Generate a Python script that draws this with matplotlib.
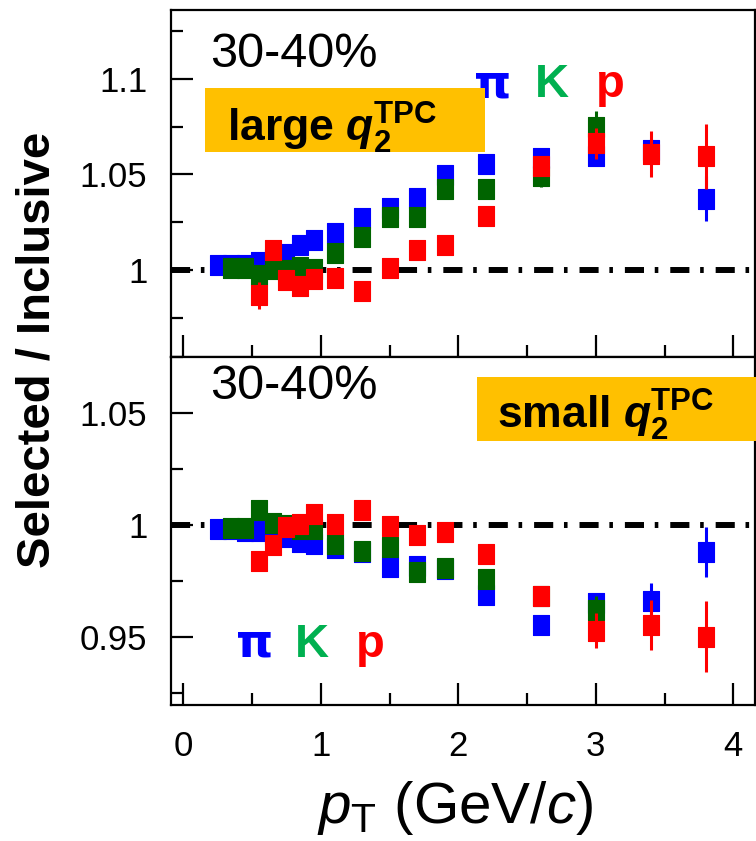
import matplotlib
matplotlib.use("Agg")
import matplotlib.pyplot as plt
from matplotlib.patches import Rectangle
from matplotlib.ticker import MultipleLocator, FuncFormatter

plt.rcParams["font.family"] = ["Liberation Sans", "DejaVu Sans"]
plt.rcParams["mathtext.fontset"] = "custom"
plt.rcParams["mathtext.rm"] = "Liberation Sans"
plt.rcParams["mathtext.it"] = "Liberation Sans:italic"
plt.rcParams["mathtext.bf"] = "Liberation Sans:italic:bold"
plt.rcParams["mathtext.sf"] = "Liberation Sans:bold"

# pT bin centres per species
pt_pi = [0.25, 0.35, 0.45, 0.55, 0.65, 0.75, 0.85, 0.95, 1.1, 1.3, 1.5, 1.7, 1.9, 2.2, 2.6, 3.0, 3.4, 3.8]
pt_k = [0.35, 0.45, 0.55, 0.65, 0.75, 0.85, 0.95, 1.1, 1.3, 1.5, 1.7, 1.9, 2.2, 2.6, 3.0]
pt_p = [0.55, 0.65, 0.75, 0.85, 0.95, 1.1, 1.3, 1.5, 1.7, 1.9, 2.2, 2.6, 3.0, 3.4, 3.8]

# large q2 selection / inclusive
large_pi = [1.003, 1.003, 1.003, 1.0045, 1.006, 1.0085, 1.013, 1.016, 1.0194, 1.0275, 1.0326, 1.0376,
            1.0497, 1.0556, 1.0586, 1.0595, 1.0626, 1.0374]
large_pi_err = [0.001, 0.001, 0.001, 0.001, 0.001, 0.001, 0.001, 0.001, 0.001, 0.001, 0.001, 0.002,
                0.002, 0.003, 0.004, 0.005, 0.006, 0.0117]
large_k = [1.0015, 1.0015, 0.9975, 1.0005, 1.0, 1.002, 1.0006, 1.009, 1.0173, 1.028, 1.028, 1.0423,
           1.0426, 1.0494, 1.0747]
large_k_err = [0.001, 0.001, 0.001, 0.001, 0.001, 0.001, 0.001, 0.001, 0.002, 0.002, 0.002, 0.003,
               0.003, 0.006, 0.0083]
large_p = [0.987, 1.0105, 0.995, 0.992, 0.9954, 0.996, 0.9893, 1.0015, 1.0107, 1.0134, 1.0284, 1.0546,
           1.0662, 1.0607, 1.0595]
large_p_err = [0.007, 0.004, 0.003, 0.003, 0.002, 0.002, 0.002, 0.002, 0.002, 0.003, 0.003, 0.005,
               0.008, 0.0122, 0.017]

# small q2 selection / inclusive
small_pi = [0.9982, 0.998, 0.9975, 0.9975, 0.996, 0.9946, 0.9925, 0.9915, 0.9895, 0.988, 0.981, 0.9818,
            0.9805, 0.9685, 0.9552, 0.965, 0.9658, 0.988]
small_pi_err = [0.001, 0.001, 0.001, 0.001, 0.001, 0.001, 0.001, 0.001, 0.001, 0.001, 0.001, 0.002,
                0.002, 0.003, 0.003, 0.004, 0.008, 0.0113]
small_k = [0.9985, 0.9985, 1.0066, 1.0009, 1.0, 0.998, 0.998, 0.9915, 0.9885, 0.9903, 0.9788, 0.9806,
           0.976, 0.968, 0.962]
small_k_err = [0.001, 0.001, 0.001, 0.001, 0.001, 0.001, 0.001, 0.001, 0.002, 0.002, 0.002, 0.003,
               0.003, 0.004, 0.006]
small_p = [0.984, 0.991, 0.999, 1.0003, 1.005, 1.0004, 1.0066, 0.9997, 0.9955, 0.9967, 0.9869, 0.968,
           0.9527, 0.9552, 0.950]
small_p_err = [0.004, 0.003, 0.002, 0.002, 0.002, 0.002, 0.002, 0.002, 0.002, 0.003, 0.003, 0.004,
               0.008, 0.0113, 0.0158]

c_pi = "#0000ff"
c_k = "#006400"
c_p = "#ff0000"
c_k_text = "#00b050"
box_color = "#ffc000"

# tall rectangle used as the point marker
box = [(-0.8, -1), (0.8, -1), (0.8, 1), (-0.8, 1), (-0.8, -1)]

fig = plt.figure(figsize=(7.56, 8.41), dpi=100)
ax_top = fig.add_axes([0.2262, 0.5755, 0.7725, 0.4126])
ax_bot = fig.add_axes([0.2262, 0.1617, 0.7725, 0.4138])


def draw_series(ax, x, y, err, color):
    ax.errorbar(x, y, yerr=err, fmt="none", ecolor=color, elinewidth=2.2, capsize=0, zorder=3)
    ax.plot(x, y, ls="none", marker=box, markersize=15, color=color, markeredgewidth=0.8,
            markeredgecolor=color, zorder=3)


def style_axis(ax):
    ax.set_xlim(-0.089, 4.158)
    ax.xaxis.set_major_locator(MultipleLocator(1))
    ax.xaxis.set_minor_locator(MultipleLocator(0.5))
    ax.yaxis.set_minor_locator(MultipleLocator(0.025))
    ax.yaxis.set_major_locator(MultipleLocator(0.05))
    ax.yaxis.set_major_formatter(FuncFormatter(lambda v, pos: "%g" % round(v, 3)))
    ax.tick_params(which="both", direction="in", width=1.6, labelsize=25,
                   top=False, right=False)
    ax.tick_params(axis="y", pad=17)
    ax.tick_params(axis="x", pad=18)
    ax.tick_params(which="major", length=16)
    ax.tick_params(which="minor", length=8.5)
    for s in ax.spines.values():
        s.set_linewidth(1.6)
    ax.axhline(1.0, color="black", lw=4.3, dashes=(3.2, 1.8, 0.6, 2.0),
               dash_capstyle="butt", zorder=2)


for ax in (ax_top, ax_bot):
    style_axis(ax)

ax_top.set_ylim(0.9549, 1.1357)
ax_bot.set_ylim(0.9194, 1.0752)
ax_top.tick_params(labelbottom=False)

draw_series(ax_top, pt_pi, large_pi, large_pi_err, c_pi)
draw_series(ax_top, pt_k, large_k, large_k_err, c_k)
draw_series(ax_top, pt_p, large_p, large_p_err, c_p)

draw_series(ax_bot, pt_pi, small_pi, small_pi_err, c_pi)
draw_series(ax_bot, pt_k, small_k, small_k_err, c_k)
draw_series(ax_bot, pt_p, small_p, small_p_err, c_p)

# centrality labels
ax_top.text(0.0668, 0.836, "30-40%", transform=ax_top.transAxes, fontsize=35, va="baseline")
ax_bot.text(0.0668, 0.878, "30-40%", transform=ax_bot.transAxes, fontsize=35, va="baseline")

# q2 selection boxes
ax_top.add_patch(Rectangle((0.0582, 0.59), 0.479, 0.185, transform=ax_top.transAxes,
                           facecolor=box_color, edgecolor="none", zorder=4))
ax_top.text(0.096, 0.62, r"large $\mathbf{q}_{\mathsf{2}}^{\mathsf{TPC}}$", transform=ax_top.transAxes,
            fontsize=32, fontweight="bold", va="baseline", zorder=5)
ax_bot.add_patch(Rectangle((0.524, 0.76), 0.48, 0.182, transform=ax_bot.transAxes,
                           facecolor=box_color, edgecolor="none", zorder=4, clip_on=False))
ax_bot.text(0.558, 0.795, r"small $\mathbf{q}_{\mathsf{2}}^{\mathsf{TPC}}$", transform=ax_bot.transAxes,
            fontsize=32, fontweight="bold", va="baseline", zorder=5)

# species legend
for ax, xs, yb in ((ax_top, (0.551, 0.652, 0.752), 0.749), (ax_bot, (0.144, 0.241, 0.341), 0.138)):
    ax.text(xs[0], yb, "π", color=c_pi, fontsize=34, fontweight="bold", ha="center", va="baseline",
            transform=ax.transAxes, family=["DejaVu Sans"])
    ax.text(xs[1], yb, "K", color=c_k_text, fontsize=34, fontweight="bold", ha="center", va="baseline",
            transform=ax.transAxes)
    ax.text(xs[2], yb, "p", color=c_p, fontsize=34, fontweight="bold", ha="center", va="baseline",
            transform=ax.transAxes)

fig.text(0.049, 0.584, "Selected / Inclusive", rotation=90, fontsize=34, fontweight="bold",
         ha="center", va="center")
fig.text(0.602, 0.039, r"$\mathit{p}_{\mathrm{T}}$ (GeV/$\mathit{c}$)", fontsize=42,
         ha="center", va="center")

fig.savefig("out.png", dpi=100)
